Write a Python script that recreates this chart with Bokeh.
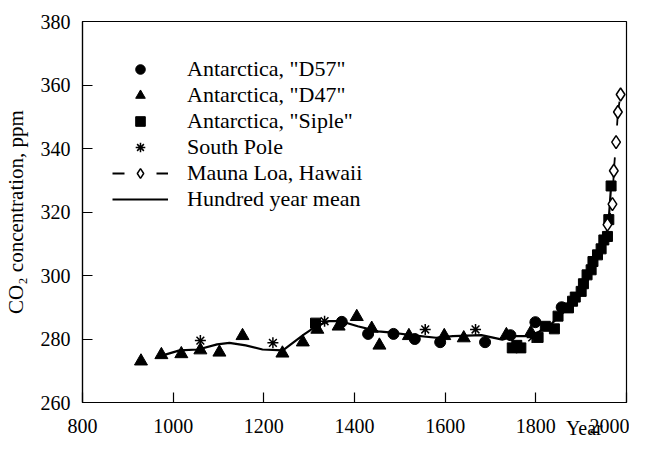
from bokeh.plotting import figure
from bokeh.models import Legend, LegendItem, FixedTicker, LinearAxis
from bokeh.embed import file_html
from bokeh.resources import INLINE

# --- data ---
d57_year = [1372, 1430, 1486, 1533, 1589, 1688, 1744, 1799, 1857]
d57_ppm = [285.4, 281.6, 281.6, 280.0, 279.0, 279.0, 281.2, 285.3, 290.0]

d47_year = [929, 974, 1018, 1060, 1102, 1153, 1241, 1286, 1318, 1365, 1405,
            1438, 1455, 1520, 1598, 1641, 1735, 1789]
d47_ppm = [273.0, 275.0, 275.3, 276.5, 275.8, 281.0, 275.5, 279.0, 283.0, 284.0,
           287.0, 283.3, 278.0, 281.0, 281.0, 280.3, 281.3, 282.0]

siple_year = [1314, 1748, 1758, 1767, 1805, 1821, 1841, 1849, 1872, 1881, 1887,
              1900, 1905, 1913, 1922, 1926, 1936, 1944, 1950, 1958, 1961, 1966]
siple_ppm = [285.0, 277.2, 278.0, 277.2, 280.5, 284.0, 283.2, 287.2, 289.8, 291.9,
             293.2, 295.0, 297.4, 300.2, 301.8, 304.4, 306.5, 308.4, 311.2, 312.3,
             317.6, 328.2]

spole_year = [1060, 1220, 1334, 1556, 1667, 1792]
spole_ppm = [279.5, 278.8, 285.6, 283.0, 283.0, 280.5]

mauna_year = [1958, 1969, 1972, 1977, 1981, 1987]
mauna_ppm = [316.0, 322.5, 333.0, 342.0, 351.5, 357.0]

mean_year = [964, 1014, 1055, 1097, 1124, 1160, 1197, 1242, 1288, 1315, 1343,
             1370, 1407, 1452, 1489, 1525, 1580, 1617, 1680, 1726, 1753, 1785,
             1808, 1836, 1863, 1890, 1913, 1936, 1954, 1961, 1966]
mean_ppm = [274.3, 276.4, 276.7, 278.3, 278.8, 278.0, 276.7, 276.4, 281.4, 284.0,
            285.6, 285.6, 284.0, 282.4, 281.9, 281.2, 280.4, 280.9, 281.2, 279.8,
            280.9, 280.9, 282.4, 285.0, 288.7, 292.9, 298.1, 305.4, 311.7, 318.0,
            328.2]

x_ticks = [800, 1000, 1200, 1400, 1600, 1800, 2000]
y_ticks = [260, 280, 300, 320, 340, 360, 380]

labels = ['Antarctica, "D57"', 'Antarctica, "D47"', 'Antarctica, "Siple"',
          'South Pole', 'Mauna Loa, Hawaii', 'Hundred year mean']
x_title = "Year"
x_title_at = 1907  # where the "Year" title sits along the x axis

FONT = "Liberation Serif"

p = figure(width=629, height=441, x_range=(800, 2000), y_range=(260, 380),
           output_backend="svg", toolbar_location=None,
           min_border_left=78, min_border_right=3, min_border_top=21,
           min_border_bottom=37)
p.grid.visible = False
p.outline_line_color = "black"
p.outline_line_width = 1.2
p.background_fill_color = "white"
p.border_fill_color = "white"

for ax in (p.xaxis[0], p.yaxis[0]):
    ax.major_tick_in = 10
    ax.major_tick_out = 0
    ax.minor_tick_line_color = None
    ax.axis_line_width = 1.2
    ax.major_tick_line_width = 1.2
    ax.major_label_text_font = FONT
    ax.major_label_text_font_size = "20px"
    ax.major_label_text_color = "black"
    ax.axis_label_text_font = FONT
    ax.axis_label_text_font_style = "normal"
    ax.axis_label_text_font_size = "21px"
    ax.axis_label_text_color = "black"

p.xaxis[0].ticker = FixedTicker(ticks=x_ticks)
p.xaxis[0].major_label_standoff = 16
p.yaxis[0].ticker = FixedTicker(ticks=y_ticks)
p.yaxis[0].major_label_standoff = 12
p.yaxis[0].axis_label = "CO\u2082 concentration, ppm"
p.yaxis[0].axis_label_standoff = 10

# "Year" title, written by a second bottom axis pulled up to the tick-label row
title_axis = LinearAxis(
    ticker=FixedTicker(ticks=[x_title_at]),
    major_label_overrides={x_title_at: x_title},
    axis_line_color=None, major_tick_line_color=None,
    minor_tick_line_color=None, major_tick_in=0, major_tick_out=0,
    major_label_standoff=-19, major_label_text_font=FONT,
    major_label_text_font_size="20px", major_label_text_color="black")
p.add_layout(title_axis, "below")

r_mean = p.line(mean_year, mean_ppm, line_color="black", line_width=2.2)
r_mline = p.line(mauna_year, mauna_ppm, line_color="black", line_width=1.8,
                 line_dash="12 32 12 0")
r_d57 = p.scatter(d57_year, d57_ppm, marker="circle", size=11,
                  fill_color="black", line_color="black")
r_d47 = p.scatter(d47_year, d47_ppm, marker="triangle", size=13,
                  fill_color="black", line_color="black")
r_siple = p.scatter(siple_year, siple_ppm, marker="square", size=10,
                    fill_color="black", line_color="black")
r_spole = p.scatter(spole_year, spole_ppm, marker="asterisk", size=11,
                    line_color="black", line_width=1.5)
r_mauna = p.scatter(mauna_year, mauna_ppm, marker="diamond", size=13,
                    fill_color="white", line_color="black", line_width=1.5)

legend = Legend(items=[
    LegendItem(label=labels[0], renderers=[r_d57]),
    LegendItem(label=labels[1], renderers=[r_d47]),
    LegendItem(label=labels[2], renderers=[r_siple]),
    LegendItem(label=labels[3], renderers=[r_spole]),
    LegendItem(label=labels[4], renderers=[r_mline, r_mauna]),
    LegendItem(label=labels[5], renderers=[r_mean]),
], location=(30, 190), border_line_color=None, background_fill_alpha=0,
    padding=0, margin=0, spacing=0, glyph_width=56, glyph_height=24,
    label_height=24, label_standoff=19, label_text_font=FONT,
    label_text_font_size="22px", label_text_color="black")
p.add_layout(legend)

open("out.html", "w").write(file_html(p, INLINE))
